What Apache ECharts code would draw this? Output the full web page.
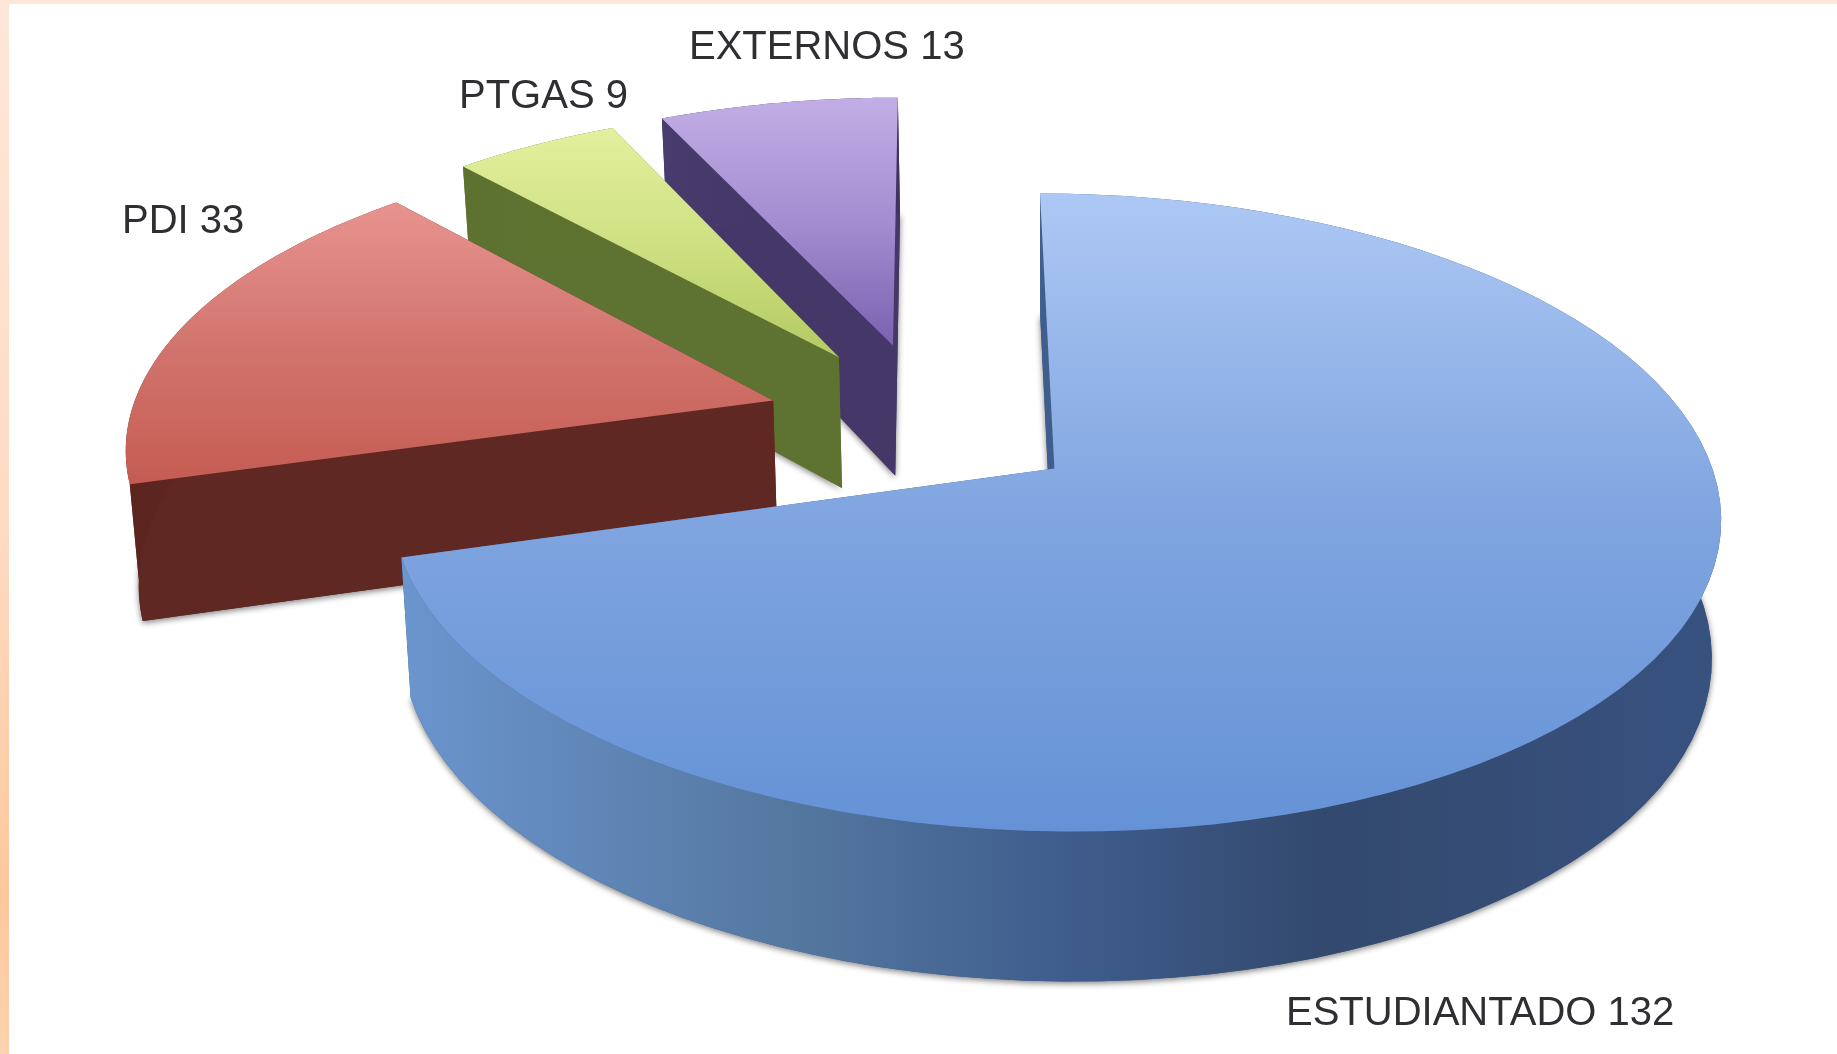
<!DOCTYPE html>
<html>
<head>
<meta charset="utf-8">
<style>
  html, body { margin: 0; padding: 0; background: #fff; }
  #main { width: 1837px; height: 1054px; }
</style>
</head>
<body>
<div id="main"></div>
<script src="https://cdn.jsdelivr.net/npm/echarts@6/dist/echarts.min.js"></script>
<script>
// data
const categories = ['ESTUDIANTADO', 'PDI', 'PTGAS', 'EXTERNOS'];
const values = [132, 33, 9, 13];

// exploded offset of each slice on the pie plane, in radius units
const explodeX = [0, -0.435, -0.335, -0.249];
const explodeY = [0, -0.224, -0.374, -0.416];

// where each label sits (left, middle)
const labelX = [1286, 122, 459, 689];
const labelY = [1014, 222, 97, 48];

const topColors = [
  ['#adc8f4', '#80a5e0', '#6592d6'],
  ['#e89390', '#d2756e', '#c55c52'],
  ['#e3f09e', '#cfe082', '#b3ca62'],
  ['#c2aee6', '#a48dd0', '#7b62b0']
];
const wallColors = [
  [[0, '#6b95ce'], [0.3, '#54779f'], [0.5, '#3f5d8d'], [0.7, '#33496e'], [1, '#385280']],
  [[0, '#5c241f'], [1, '#6b3027']],
  [[0, '#5d7231'], [1, '#5f7330']],
  [[0, '#483b6d'], [1, '#40345f']]
];
const edgeColors = ['#3f5d8d', '#5f2822', '#5e7231', '#453868'];

// projection of the pie plane
const CX = 1054.4, CY = 468.6;
const SX = 658, SY = 313, SHEAR = 16.4, PERSP = 0.1376;
const DEPTH = 136, DEPTH_NEAR = 14, BOTTOM_SCALE = 0.986;

const total = values.reduce((a, b) => a + b, 0);

function project(x, y) {
  const f = 1 - PERSP * y;
  return [CX + (SX * x + SHEAR * y) / f, CY + SY * y / f];
}

function drop(x, y) {
  const p = project(x, y);
  return [CX + (p[0] - CX) * BOTTOM_SCALE, p[1] + DEPTH + DEPTH_NEAR * y];
}

function linear(stops, horizontal) {
  return {
    type: 'linear', x: 0, y: 0, x2: horizontal ? 1 : 0, y2: horizontal ? 0 : 1,
    colorStops: stops.map(s => ({ offset: s[0], color: s[1] }))
  };
}

function startAngle(i) {
  let sum = 0;
  for (let k = 0; k < i; k++) sum += values[k];
  return sum / total * Math.PI * 2;
}

const renderItem = (params, api) => {
  const i = params.dataIndex;
  const a0 = startAngle(i);
  const a1 = a0 + api.value(0) / total * Math.PI * 2;
  const ox = explodeX[i], oy = explodeY[i];
  const arc = [];
  const steps = 90;
  for (let s = 0; s <= steps; s++) {
    const a = a0 + (a1 - a0) * s / steps;
    arc.push([ox + Math.sin(a), oy - Math.cos(a)]);
  }
  const top = arc.map(q => project(q[0], q[1]));
  const bottom = arc.map(q => drop(q[0], q[1]));
  const apexTop = project(ox, oy);
  const apexBottom = drop(ox, oy);
  const z2 = values.length - i;
  const c = topColors[i];
  return {
    type: 'group',
    children: [
      {
        // underside, only there to cast the soft edge under the slice
        type: 'polygon', z2,
        shape: { points: [apexBottom].concat(bottom) },
        style: { fill: edgeColors[i], shadowBlur: 6, shadowColor: 'rgba(40,40,40,0.6)', shadowOffsetY: 2 }
      },
      {
        type: 'polygon', z2,
        shape: { points: [apexTop, top[0], bottom[0], apexBottom] },
        style: { fill: edgeColors[i] }
      },
      {
        type: 'polygon', z2,
        shape: { points: [apexTop, top[steps], bottom[steps], apexBottom] },
        style: { fill: edgeColors[i] }
      },
      {
        type: 'polygon', z2,
        shape: { points: top.concat(bottom.slice().reverse()) },
        style: { fill: linear(wallColors[i], true) }
      },
      {
        type: 'polygon', z2,
        shape: { points: [apexTop].concat(top) },
        style: { fill: linear([[0, c[0]], [0.5, c[1]], [1, c[2]]], false) }
      },
      {
        type: 'text', z2: 20,
        style: {
          text: categories[i] + ' ' + api.value(0),
          x: labelX[i], y: labelY[i],
          verticalAlign: 'middle',
          font: '40px "Liberation Sans", Arial, sans-serif',
          fill: '#2f2f33'
        }
      }
    ]
  };
};

const chart = echarts.init(document.getElementById('main'));
chart.setOption({
  animation: false,
  backgroundColor: '#fff',
  graphic: [
    {
      type: 'rect', z: -1, silent: true,
      shape: { x: 0, y: 0, width: 9, height: 1054 },
      style: { fill: linear([[0, '#fee7d9'], [0.5, '#fedbc2'], [0.85, '#fec89e'], [1, '#fed3b0']], false) }
    },
    {
      type: 'rect', z: -1, silent: true,
      shape: { x: 0, y: 0, width: 1837, height: 4 },
      style: { fill: '#fee7d9' }
    }
  ],
  series: [
    {
      type: 'custom',
      coordinateSystem: 'none',
      renderItem,
      data: values.map((v, i) => ({ name: categories[i], value: [v] }))
    }
  ]
});
</script>
</body>
</html>
